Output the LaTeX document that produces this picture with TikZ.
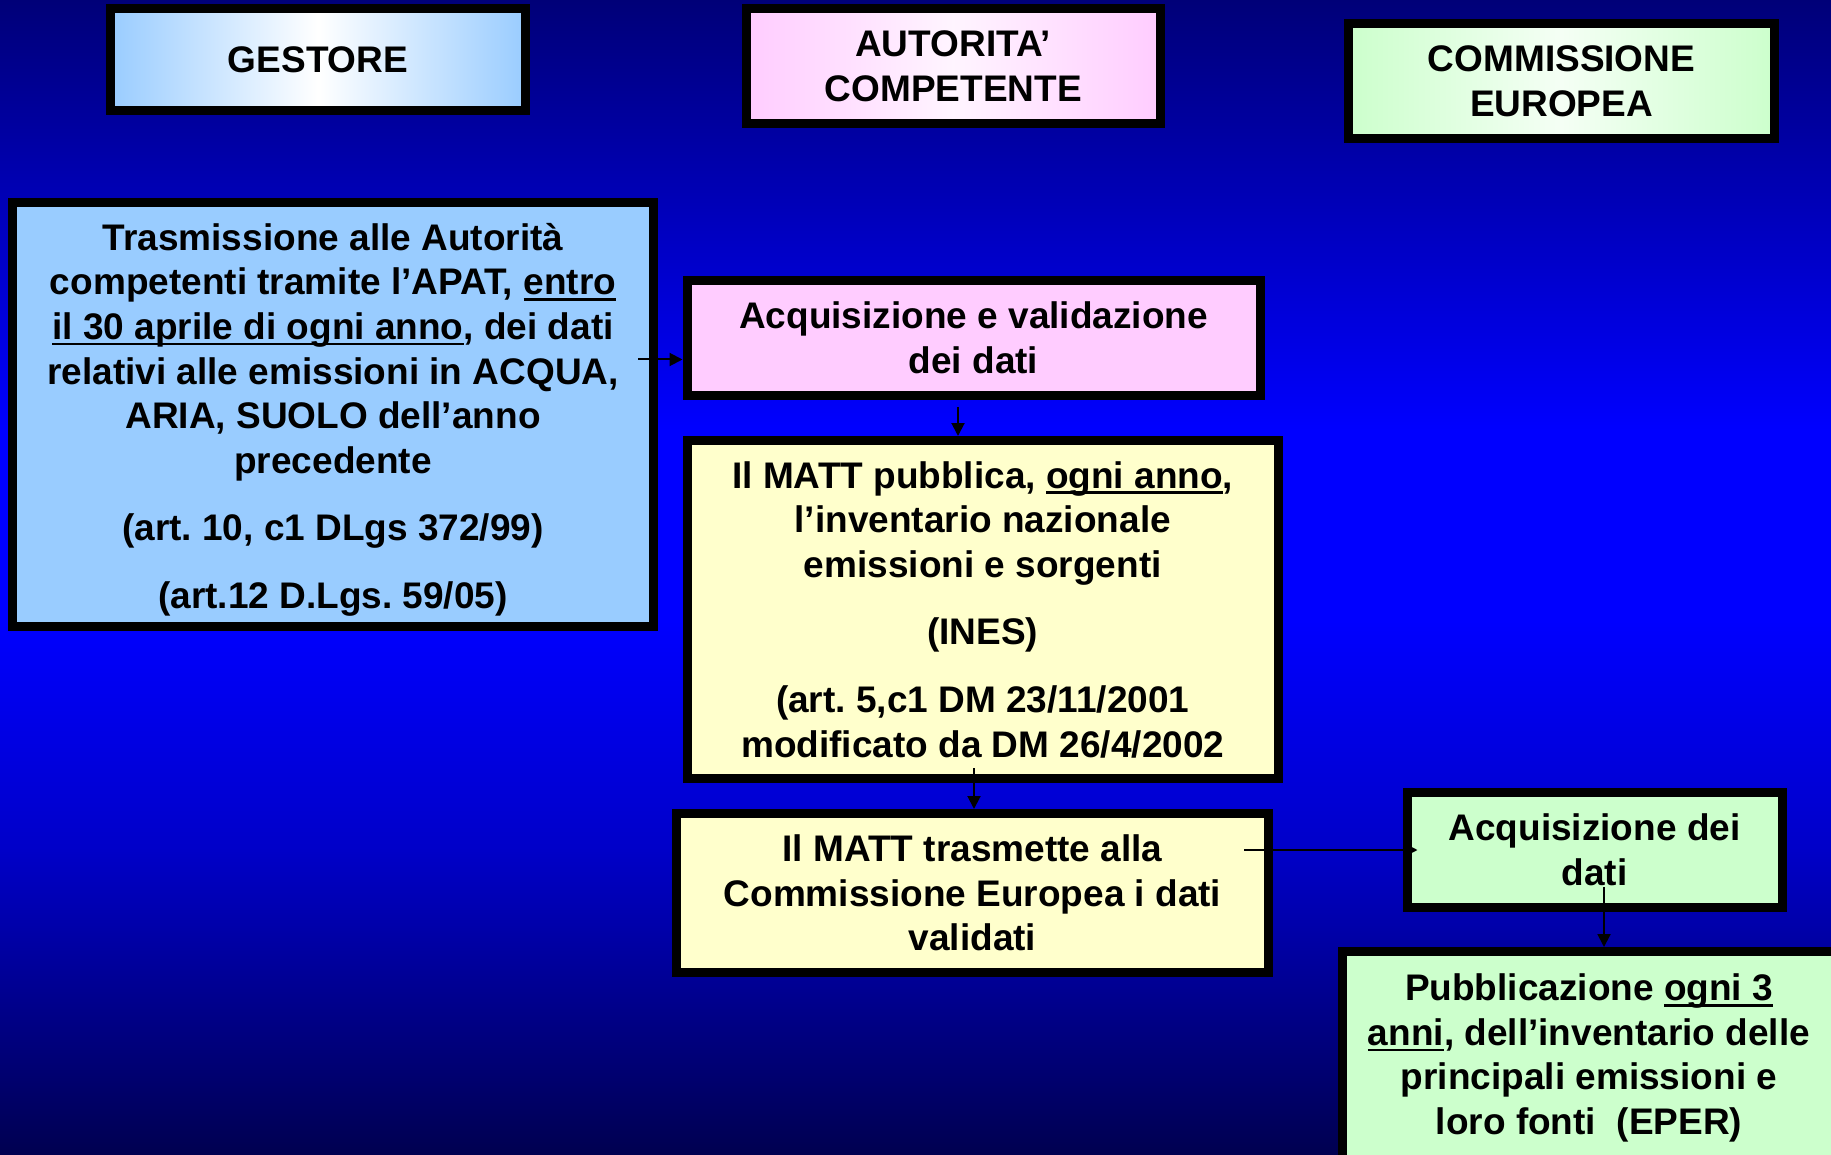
\documentclass[tikz,border=0pt]{standalone}
\usepackage{fontspec}
\setmainfont{Liberation Sans}
\usetikzlibrary{arrows.meta}
\frenchspacing

\definecolor{bgbottom}{HTML}{000050}
\definecolor{bglow}{HTML}{0000C8}
\definecolor{bgmid}{HTML}{0000FF}
\definecolor{bgtop}{HTML}{000078}
\definecolor{gestblue}{HTML}{99CCFF}
\definecolor{autpink}{HTML}{FFCCFF}
\definecolor{matyellow}{HTML}{FFFFCC}
\definecolor{ecgreen}{HTML}{CCFFCC}

% only 25bp..75bp of a shading lands on the path
\pgfdeclareverticalshading{slidebg}{100bp}{color(0bp)=(bgbottom); color(25bp)=(bgbottom); color(38.2bp)=(bglow); color(48.15bp)=(bgmid); color(56.4bp)=(bgmid); color(75bp)=(bgtop); color(100bp)=(bgtop)}

\newcommand{\undl}[1]{\setbox0\hbox{#1}\rlap{\rule[-6pt]{\wd0}{2.6pt}}\box0}

\tikzset{
	box/.style={draw=black, line width=9pt, inner sep=0pt, align=center, font=\bfseries\fontsize{37}{44.6}\selectfont},
	link/.style={line width=2pt, -{Triangle[length=13pt,width=13pt]}},
}

\begin{document}
\begin{tikzpicture}[x=1pt,y=-1pt]
	\useasboundingbox (0,0) rectangle (1831,1155);
	\fill[shading=slidebg] (0,0) rectangle (1831,1155);

	% column headers
	\node[box, left color=gestblue, right color=gestblue, middle color=white, minimum width=415pt, minimum height=102pt] (gestore) at (318,59.5) {GESTORE};
	\node[box, left color=autpink, right color=autpink, middle color=autpink!20, minimum width=414.5pt, minimum height=115pt] (autorita) at (953.25,66) {AUTORITA’\\ COMPETENTE};
	\node[box, left color=ecgreen, right color=ecgreen, middle color=ecgreen!20, minimum width=426pt, minimum height=114.5pt] (commissione) at (1561.5,81.25) {COMMISSIONE\\ EUROPEA};

	% steps
	\node[box, fill=gestblue, minimum width=641pt, minimum height=423pt] (trasm) at (333,414.5) {\mbox{}\\[-7pt]Trasmissione alle Autorità\\ competenti tramite l’APAT, \undl{entro}\\ \undl{il 30 aprile di ogni anno}, dei dati\\ relativi alle emissioni in ACQUA,\\ ARIA, SUOLO dell’anno\\ precedente\\[23pt] (art. 10, c1 DLgs 372/99)\\[23pt] (art.12 D.Lgs. 59/05)};
	\node[box, fill=autpink, minimum width=573pt, minimum height=115pt] (acqval) at (973.5,338) {Acquisizione e validazione\\ dei dati};
	\node[box, fill=matyellow, minimum width=591.5pt, minimum height=338pt] (ines) at (982.75,609.5) {Il MATT pubblica, \undl{ogni anno},\\ l’inventario nazionale\\ emissioni e sorgenti\\[23pt] (INES)\\[23pt] (art. 5,c1 DM 23/11/2001\\ modificato da DM 26/4/2002};
	\node[box, fill=matyellow, minimum width=592pt, minimum height=159pt] (matttx) at (972.5,893) {Il MATT trasmette alla\\ Commissione Europea i dati\\ validati};
	\node[box, fill=ecgreen, minimum width=375pt, minimum height=115pt] (acqdati) at (1594.5,850) {Acquisizione dei\\ dati};
	\node[box, fill=ecgreen, minimum width=494pt, minimum height=213pt] (eper) at (1589,1058) {Pubblicazione \undl{ogni 3}\\ \undl{anni}, dell’inventario delle\\ principali emissioni e\\ loro fonti\ \ (EPER)};

	% arrows
	\coordinate (s1) at (638,359.5);
	\coordinate (s2) at (958,407);
	\coordinate (s3) at (974,768);
	\coordinate (s4) at (1244,850);
	\coordinate (s5) at (1604,887);
	\draw[link] (s1) -- (s1 -| acqval.west);
	\draw[link] (s2) -- (s2 |- ines.north);
	\draw[link] (s3) -- (s3 |- matttx.north);
	\draw[link] (s4) -- ([xshift=15pt]acqdati.west);
	\draw[link] (s5) -- (s5 |- eper.north);
\end{tikzpicture}
\end{document}
